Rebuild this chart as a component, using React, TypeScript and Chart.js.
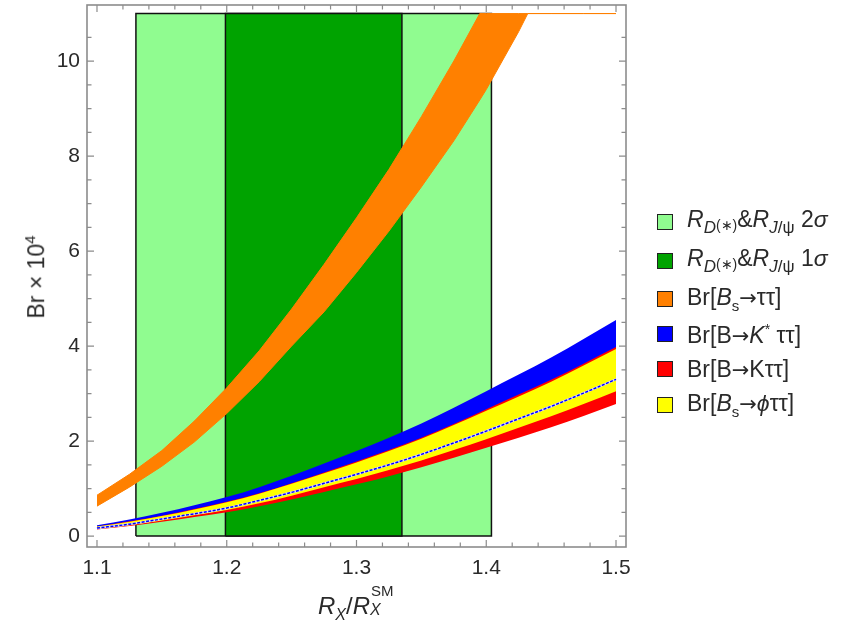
import React, { useEffect, useRef } from "react";
import { Chart, registerables } from "chart.js";

Chart.register(...registerables);

// ---------- data ----------
const gridX = [1.1, 1.125, 1.15, 1.175, 1.2, 1.225, 1.25, 1.275, 1.3, 1.325, 1.35, 1.375, 1.4, 1.425, 1.45, 1.475, 1.5];

// Br[B -> K* tau tau] band
const kStarUpper = [0.23, 0.35, 0.49, 0.65, 0.82, 1.03, 1.27, 1.53, 1.79, 2.07, 2.37, 2.7, 3.05, 3.4, 3.76, 4.15, 4.55];
const kStarLower = [0.17, 0.25, 0.36, 0.47, 0.59, 0.75, 0.92, 1.11, 1.3, 1.5, 1.72, 1.96, 2.21, 2.47, 2.73, 3.01, 3.3];
// Br[B -> K tau tau] band
const kUpper = [0.2, 0.31, 0.43, 0.57, 0.72, 0.9, 1.11, 1.34, 1.57, 1.81, 2.07, 2.36, 2.67, 2.98, 3.29, 3.63, 3.98];
const kLower = [0.14, 0.21, 0.3, 0.4, 0.5, 0.63, 0.77, 0.93, 1.09, 1.26, 1.45, 1.65, 1.86, 2.07, 2.29, 2.53, 2.78];
// Br[Bs -> phi tau tau] band
const phiUpper = [0.2, 0.3, 0.42, 0.56, 0.71, 0.89, 1.1, 1.32, 1.55, 1.79, 2.05, 2.34, 2.64, 2.94, 3.25, 3.59, 3.94];
const phiLower = [0.15, 0.23, 0.33, 0.44, 0.55, 0.69, 0.85, 1.03, 1.2, 1.39, 1.59, 1.81, 2.04, 2.28, 2.52, 2.78, 3.05];

// Br[Bs -> tau tau] band (clipped at the top of the plot range)
const orangeX = [1.1, 1.125, 1.15, 1.175, 1.2, 1.225, 1.25, 1.275, 1.3, 1.325, 1.35, 1.375, 1.395, 1.4, 1.425, 1.432, 1.45, 1.475, 1.5];
const bsUpper = [0.86, 1.3, 1.8, 2.42, 3.12, 3.9, 4.78, 5.72, 6.7, 7.72, 8.83, 10.0, 11, 11, 11, 11, 11, 11, 11];
const bsLower = [0.63, 1.03, 1.47, 1.98, 2.58, 3.25, 4.0, 4.72, 5.55, 6.42, 7.35, 8.32, 9.18, 9.4, 10.62, 11, 11, 11, 11];

// R_D(*) & R_J/psi allowed regions
const sigma2Range = [1.13, 1.404];
const sigma1Range = [1.199, 1.335];
const regionTop = 11;

// axes
const xTicks = [1.1, 1.2, 1.3, 1.4, 1.5];
const yTicks = [0, 2, 4, 6, 8, 10];
const xLimits = [1.0923, 1.5077];
const yLimits = [-0.23, 11.18];

// ---------- colours ----------
const C = {
  light: "#90fc90",
  dark: "#00a300",
  orange: "#ff8000",
  blue: "#0000ff",
  red: "#ff0000",
  yellow: "#ffff00",
};

const FONT = "'Liberation Sans', Arial, sans-serif";

const pts = (xs: number[], ys: number[]) => xs.map((x, i) => ({ x, y: ys[i] }));
const topEdge = (r: number[]) => [
  { x: r[0], y: regionTop },
  { x: r[1], y: regionTop },
];
const outline = (r: number[]) => [
  { x: r[0], y: 0 },
  { x: r[0], y: regionTop },
  { x: r[1], y: regionTop },
  { x: r[1], y: 0 },
  { x: r[0], y: 0 },
];

const frameTicks = {
  id: "frameTicks",
  afterDatasetsDraw(chart: any) {
    const { ctx, chartArea: a, scales } = chart;
    const x = scales.x;
    const y = scales.y;
    ctx.save();
    ctx.strokeStyle = "#8c8c8c";
    ctx.lineWidth = 1.2;
    ctx.beginPath();
    for (let i = 0; i <= 20; i++) {
      const v = 1.1 + i * 0.02;
      const p = x.getPixelForValue(v);
      const len = i % 5 === 0 ? 7 : 4.5;
      ctx.moveTo(p, a.bottom);
      ctx.lineTo(p, a.bottom - len);
      ctx.moveTo(p, a.top);
      ctx.lineTo(p, a.top + len);
    }
    for (let i = 0; i <= 21; i++) {
      const v = i * 0.5;
      const p = y.getPixelForValue(v);
      const len = i % 4 === 0 ? 7 : 4.5;
      ctx.moveTo(a.left, p);
      ctx.lineTo(a.left + len, p);
      ctx.moveTo(a.right, p);
      ctx.lineTo(a.right - len, p);
    }
    ctx.stroke();
    ctx.lineWidth = 1.6;
    ctx.strokeRect(a.left, a.top, a.right - a.left, a.bottom - a.top);
    ctx.restore();
  },
};

const txt: React.CSSProperties = {
  position: "absolute",
  fontFamily: FONT,
  color: "#2a2a2a",
  whiteSpace: "nowrap",
  lineHeight: 1,
};

const Arrow = () => <span style={{ fontFamily: "'DejaVu Sans', sans-serif", fontSize: 21 }}>→</span>;

const rdLabel = (n: string) => (
  <>
    <i>R</i>
    <sub style={{ fontSize: 17 }}>
      <i>D</i>
      <span style={{ fontSize: 14, verticalAlign: 3 }}>(∗)</span>
    </sub>
    &amp;<i>R</i>
    <sub style={{ fontSize: 17 }}>
      <i>J</i>/ψ
    </sub>{" "}
    {n}
    <i>σ</i>
  </>
);

const legendRows: { color: string; y: number; label: React.ReactNode }[] = [
  { color: C.light, y: 222, label: rdLabel("2") },
  { color: C.dark, y: 261, label: rdLabel("1") },
  {
    color: C.orange,
    y: 299,
    label: (
      <>
        Br[<i>B</i>
        <sub style={{ fontSize: 15 }}>s</sub>
        <Arrow />
        ττ]
      </>
    ),
  },
  {
    color: C.blue,
    y: 334,
    label: (
      <>
        Br[B<Arrow />
        <i>K</i>
        <sup style={{ fontSize: 14 }}>*</sup> ττ]
      </>
    ),
  },
  {
    color: C.red,
    y: 369,
    label: (
      <>
        Br[B<Arrow />
        Kττ]
      </>
    ),
  },
  {
    color: C.yellow,
    y: 405,
    label: (
      <>
        Br[<i>B</i>
        <sub style={{ fontSize: 15 }}>s</sub>
        <Arrow />
        <i>ϕ</i>ττ]
      </>
    ),
  },
];

export default function App() {
  const ref = useRef<HTMLCanvasElement | null>(null);

  useEffect(() => {
    if (!ref.current) return;
    const line = (extra: any) => ({
      showLine: true,
      pointRadius: 0,
      borderWidth: 0,
      cubicInterpolationMode: "monotone",
      fill: false,
      ...extra,
    });
    const straight = { cubicInterpolationMode: "default", tension: 0 };
    const chart = new Chart(ref.current, {
      type: "scatter",
      data: {
        datasets: [
          line({ label: "K* edge dash", data: pts(gridX, kStarLower), borderColor: C.blue, borderWidth: 1.5, borderDash: [3, 1.5], order: 0 }),
          line({ label: "K* edge", data: pts(gridX, kStarLower), borderColor: "#d8d8ff", borderWidth: 2.2, order: 1 }),
          line({ label: "Bs→φττ", data: pts(gridX, phiUpper), backgroundColor: C.yellow, fill: 3, order: 2 }),
          line({ label: "phi lower", data: pts(gridX, phiLower), order: 3 }),
          line({ label: "B→Kττ", data: pts(gridX, kUpper), backgroundColor: C.red, fill: 5, order: 4 }),
          line({ label: "K lower", data: pts(gridX, kLower), order: 5 }),
          line({ label: "B→K*ττ", data: pts(gridX, kStarUpper), backgroundColor: C.blue, fill: 7, order: 6 }),
          line({ label: "K* lower", data: pts(gridX, kStarLower), order: 7 }),
          line({ label: "Bs→ττ", data: pts(orangeX, bsUpper), backgroundColor: C.orange, borderColor: C.orange, borderWidth: 1, fill: 9, order: 8, ...straight }),
          line({ label: "Bs lower", data: pts(orangeX, bsLower), borderColor: C.orange, borderWidth: 1, order: 9, ...straight }),
          line({ label: "1σ outline", data: outline(sigma1Range), borderColor: "#111", borderWidth: 1.5, order: 10, ...straight }),
          line({ label: "1σ", data: topEdge(sigma1Range), backgroundColor: C.dark, fill: "origin", order: 11, ...straight }),
          line({ label: "2σ outline", data: outline(sigma2Range), borderColor: "#111", borderWidth: 1.5, order: 12, ...straight }),
          line({ label: "2σ", data: topEdge(sigma2Range), backgroundColor: C.light, fill: "origin", order: 13, ...straight }),
        ],
      },
      options: {
        animation: false,
        responsive: false,
        maintainAspectRatio: false,
        layout: { padding: { left: 0, right: 228, top: 5, bottom: 0 } },
        plugins: { legend: { display: false }, tooltip: { enabled: false } },
        scales: {
          x: {
            type: "linear",
            min: xLimits[0],
            max: xLimits[1],
            grid: { display: false, drawTicks: false },
            border: { display: false },
            afterBuildTicks: (s: any) => {
              s.ticks = xTicks.map((v) => ({ value: v }));
            },
            afterFit: (s: any) => {
              s.height = 75;
              s.paddingLeft = 0;
              s.paddingRight = 0;
            },
            ticks: {
              padding: 9,
              color: "#2a2a2a",
              font: { family: FONT, size: 21 },
              callback: (v: any) => Number(v).toFixed(1),
            },
          },
          y: {
            type: "linear",
            min: yLimits[0],
            max: yLimits[1],
            grid: { display: false, drawTicks: false },
            border: { display: false },
            afterBuildTicks: (s: any) => {
              s.ticks = yTicks.map((v) => ({ value: v }));
            },
            afterFit: (s: any) => {
              s.width = 87;
              s.paddingTop = 0;
              s.paddingBottom = 0;
            },
            ticks: {
              padding: 7,
              color: "#2a2a2a",
              font: { family: FONT, size: 21 },
              callback: (v: any) => String(Math.round(Number(v))),
            },
          },
        },
      },
      plugins: [frameTicks],
    } as any);
    return () => chart.destroy();
  }, []);

  return (
    <div style={{ position: "absolute", left: 0, top: 0, width: 854, height: 622, background: "#fff" }}>
      <canvas ref={ref} width={854} height={622} style={{ position: "absolute", left: 0, top: 0 }} />
      {/* y axis title */}
      <div
        style={{
          ...txt,
          fontSize: 23,
          left: 35,
          top: 277,
          transform: "translate(-50%, -50%) rotate(-90deg)",
        }}
      >
        Br × 10<sup style={{ fontSize: 15 }}>4</sup>
      </div>
      {/* x axis title */}
      <div style={{ ...txt, fontSize: 24, left: 318, top: 590 }}>
        <i>R</i>
        <sub style={{ fontSize: 16 }}>
          <i>X</i>
        </sub>
        /<i>R</i>
        <span style={{ display: "inline-block", position: "relative", width: 28, height: 24 }}>
          <span style={{ position: "absolute", left: 1, top: -7, fontSize: 15 }}>SM</span>
          <i style={{ position: "absolute", left: 0, top: 12, fontSize: 16 }}>X</i>
        </span>
      </div>
      {/* legend */}
      {legendRows.map((r, i) => (
        <div key={i} style={{ position: "absolute", left: 657, top: r.y - 10, height: 20, display: "flex", alignItems: "center" }}>
          <div style={{ width: 14, height: 14, background: r.color, border: "1.6px solid #222" }} />
          <div style={{ ...txt, position: "relative", fontSize: 23, marginLeft: 14 }}>{r.label}</div>
        </div>
      ))}
    </div>
  );
}
